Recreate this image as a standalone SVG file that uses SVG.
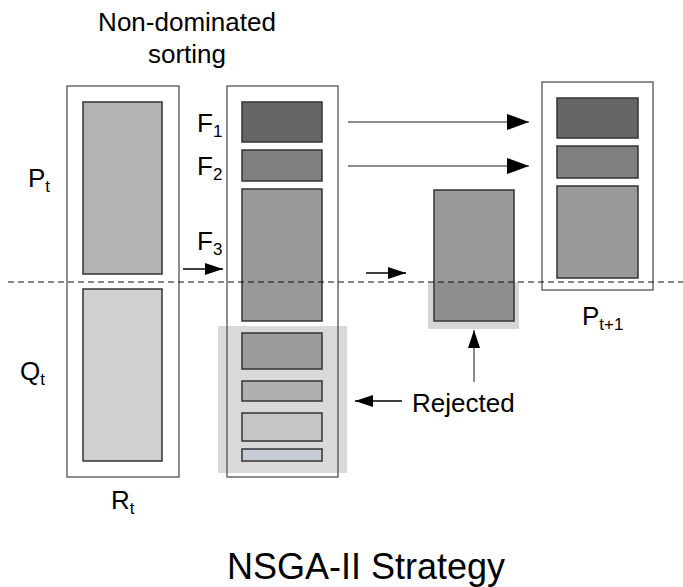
<svg xmlns="http://www.w3.org/2000/svg" width="683" height="587" viewBox="0 0 683 587">
<defs>
<marker id="ah" markerUnits="userSpaceOnUse" markerWidth="18" markerHeight="12" refX="18" refY="6" orient="auto"><path d="M0,0 L18,6 L0,12 z" fill="#000"/></marker>
<marker id="ahl" markerUnits="userSpaceOnUse" markerWidth="22" markerHeight="16" refX="22" refY="8" orient="auto"><path d="M0,0 L22,8 L0,16 z" fill="#000"/></marker>
<style>
.box{fill:none;stroke:#444;stroke-width:1.2}
.r{stroke:#333;stroke-width:1.5}
.t{font-family:"Liberation Sans",Arial,sans-serif;font-size:26px;fill:#000}
.s{font-size:17px}
.ln{stroke:#000;stroke-width:1.3;fill:none}
.lg{stroke:#666;stroke-width:1.5;fill:none}
</style>
</defs>
<rect width="683" height="587" fill="#fff"/>
<g id="Rt">
<rect class="box" x="67" y="86" width="112" height="391"/>
<rect id="Pt" class="r" x="83" y="102" width="79" height="172" fill="#b3b3b3"/>
<rect id="Qt" class="r" x="83" y="289" width="79" height="172" fill="#d0d0d0"/>
</g>
<g id="sorted">
<rect x="218" y="326" width="129" height="147" fill="#d9d9d9"/>
<rect class="box" x="227" y="86" width="111" height="391"/>
<rect id="F1" class="r" x="242" y="102" width="80" height="40" fill="#666"/>
<rect id="F2" class="r" x="242" y="150" width="80" height="31" fill="#808080"/>
<rect id="F3" class="r" x="242" y="189" width="80" height="132" fill="#999"/>
<rect class="r" x="242" y="333" width="80" height="36" fill="#9c9c9c"/>
<rect class="r" x="242" y="381" width="80" height="20" fill="#b0b0b0"/>
<rect class="r" x="242" y="413" width="80" height="28" fill="#c6c6c6"/>
<rect class="r" x="242" y="449" width="80" height="12" fill="#c8ccd6"/>
</g>
<g id="F3split">
<rect x="428" y="282" width="91" height="47" fill="#d6d6d6"/>
<rect class="r" x="434" y="190" width="80" height="131" fill="#999"/>
<rect x="435" y="282" width="78" height="38" fill="#8e8e8e"/>
</g>
<g id="Pt1">
<rect class="box" x="542" y="82" width="111" height="208"/>
<rect class="r" x="557" y="98" width="81" height="40" fill="#666"/>
<rect class="r" x="557" y="146" width="81" height="32" fill="#808080"/>
<rect class="r" x="557" y="186" width="81" height="92" fill="#999"/>
</g>
<g id="connectors">
<line x1="8" y1="282" x2="683" y2="282" stroke="#111" stroke-width="1" stroke-dasharray="6,4"/>
<line class="ln" x1="183" y1="269" x2="223" y2="269" marker-end="url(#ah)"/>
<line class="ln" x1="366" y1="273" x2="406" y2="273" marker-end="url(#ah)"/>
<line class="lg" x1="348" y1="122" x2="529" y2="122" marker-end="url(#ahl)"/>
<line class="lg" x1="348" y1="166" x2="529" y2="166" marker-end="url(#ahl)"/>
<line class="lg" x1="474" y1="382" x2="474" y2="330" marker-end="url(#ah)"/>
<line class="ln" x1="402" y1="401" x2="355" y2="401" marker-end="url(#ah)"/>
</g>
<g id="labels">
<text class="t" x="187" y="31" text-anchor="middle">Non-dominated</text>
<text class="t" x="187" y="63" text-anchor="middle">sorting</text>
<text class="t" x="28" y="187">P<tspan class="s" dy="5">t</tspan></text>
<text class="t" x="20" y="380">Q<tspan class="s" dy="5">t</tspan></text>
<text class="t" x="111" y="509">R<tspan class="s" dy="5">t</tspan></text>
<text class="t" x="197" y="132">F<tspan class="s" dy="5">1</tspan></text>
<text class="t" x="197" y="175">F<tspan class="s" dy="5">2</tspan></text>
<text class="t" x="197" y="250">F<tspan class="s" dy="5">3</tspan></text>
<text class="t" x="582" y="325">P<tspan class="s" dy="5">t+1</tspan></text>
<text class="t" x="412" y="412">Rejected</text>
<text class="t" x="227" y="579" style="font-size:36px">NSGA-II Strategy</text>
</g>
</svg>
